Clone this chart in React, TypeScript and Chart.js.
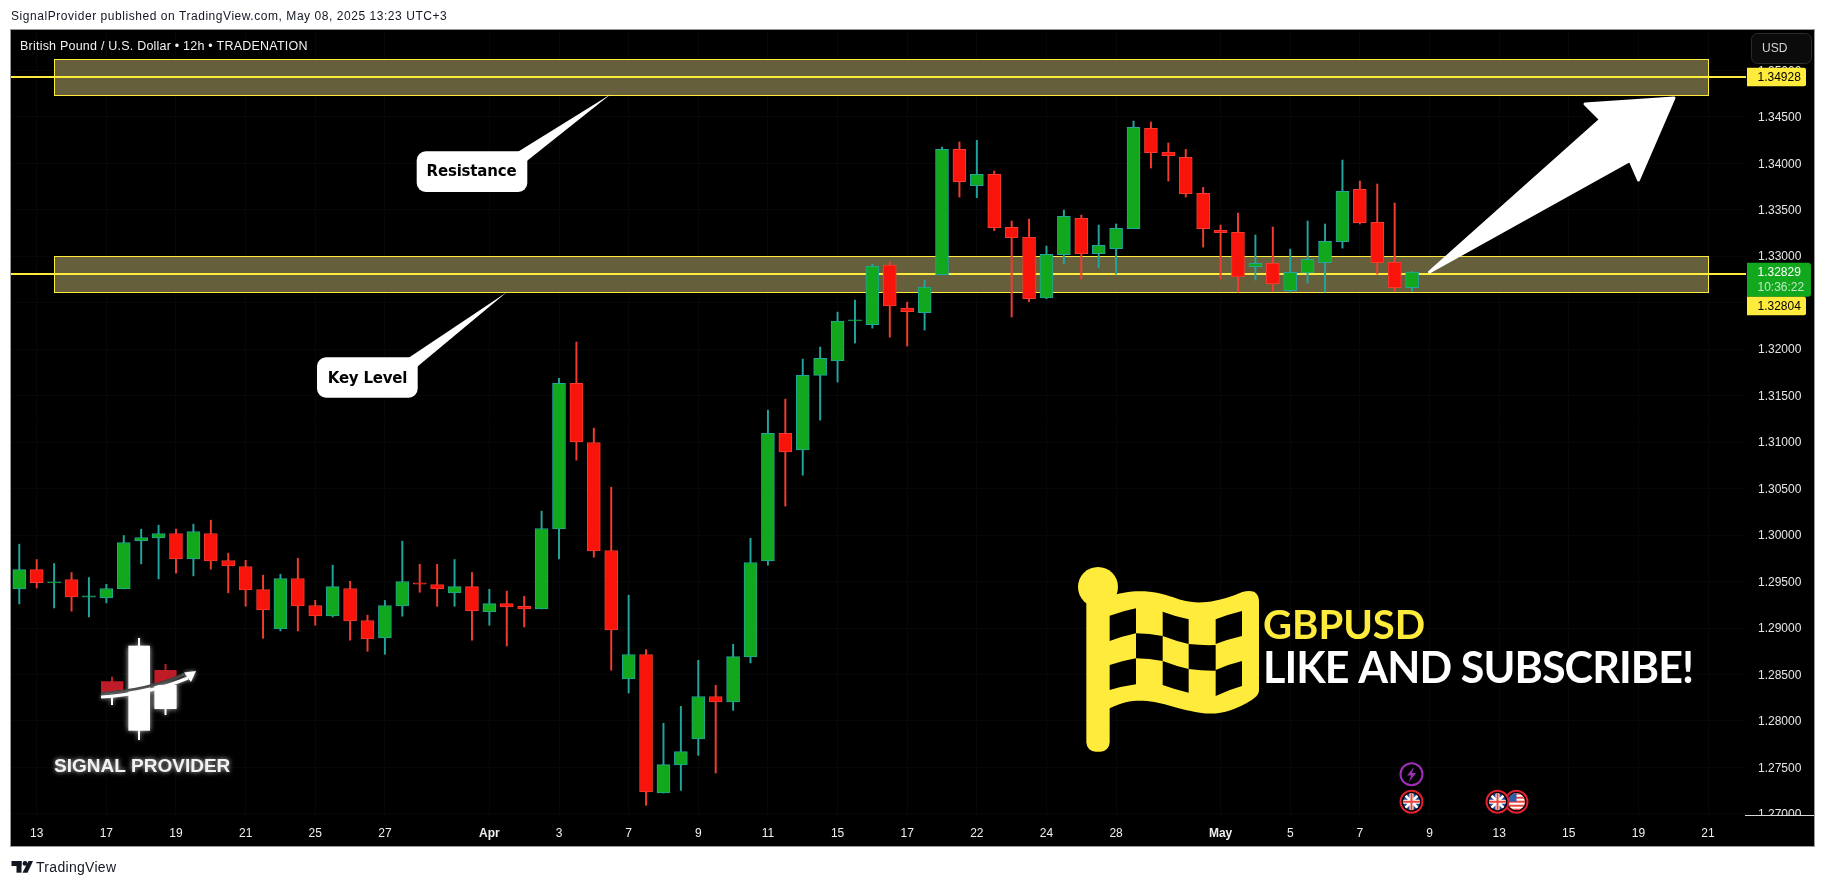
import React, { useEffect, useRef } from "react";
import { Chart, registerables } from "chart.js";

Chart.register(...registerables);

const opens = [1.29421,1.29629,1.29486,1.29522,1.29333,1.29324,1.29421,1.29937,1.29969,1.30017,1.29743,1.30017,1.29726,1.29662,1.29414,1.28990,1.29533,1.29242,1.29130,1.29425,1.29081,1.28893,1.29238,1.29485,1.29468,1.29378,1.29446,1.29173,1.29263,1.29234,1.29205,1.30066,1.31631,1.30996,1.29834,1.28452,1.28715,1.27225,1.27527,1.27806,1.28263,1.28205,1.28689,1.29722,1.31093,1.30917,1.31717,1.31874,1.32303,1.32262,1.32904,1.32442,1.32391,1.32800,1.34149,1.33758,1.33880,1.33310,1.33202,1.32552,1.33015,1.33407,1.33026,1.33080,1.33295,1.34375,1.34120,1.34063,1.33676,1.33278,1.33256,1.32886,1.32923,1.32628,1.32821,1.32929,1.33155,1.33719,1.33364,1.32933,1.32660];
const highs = [1.29902,1.29737,1.29694,1.29597,1.29543,1.29471,1.29995,1.30063,1.30106,1.30063,1.30117,1.30160,1.29805,1.29729,1.29568,1.29579,1.29751,1.29299,1.29676,1.29503,1.29138,1.29296,1.29934,1.29686,1.29686,1.29737,1.29597,1.29417,1.29396,1.29342,1.30257,1.31685,1.32076,1.31150,1.30515,1.29353,1.28768,1.27975,1.28158,1.28653,1.28384,1.28825,1.29966,1.31344,1.31462,1.31893,1.32022,1.32398,1.32528,1.32915,1.32937,1.32506,1.32743,1.34174,1.34228,1.34246,1.33916,1.33378,1.33399,1.33109,1.33496,1.33442,1.33335,1.33346,1.34454,1.34443,1.34217,1.34149,1.33740,1.33335,1.33464,1.33227,1.33313,1.33076,1.33378,1.33346,1.34034,1.33808,1.33776,1.33572,1.32836];
const lows = [1.29259,1.29431,1.29216,1.29181,1.29119,1.29270,1.29421,1.29690,1.29528,1.29590,1.29561,1.29633,1.29378,1.29234,1.28890,1.28969,1.28969,1.29030,1.29119,1.28869,1.28750,1.28718,1.29127,1.29385,1.29234,1.29234,1.28869,1.29030,1.28807,1.29012,1.29205,1.29743,1.30806,1.29762,1.28546,1.28301,1.27093,1.27225,1.27254,1.27631,1.27440,1.28115,1.28624,1.29676,1.30311,1.30644,1.31236,1.31645,1.32065,1.32226,1.32129,1.32033,1.32205,1.32797,1.33636,1.33629,1.33273,1.32345,1.32509,1.32542,1.32915,1.32754,1.32875,1.32807,1.33295,1.33948,1.33808,1.33636,1.33098,1.32754,1.32614,1.32743,1.32624,1.32613,1.32711,1.32613,1.33087,1.33346,1.32807,1.32624,1.32624];
const closes = [1.29629,1.29489,1.29497,1.29335,1.29345,1.29425,1.29920,1.29974,1.30017,1.29743,1.30038,1.29722,1.29668,1.29410,1.29195,1.29533,1.29238,1.29130,1.29446,1.29076,1.28883,1.29242,1.29500,1.29473,1.29421,1.29446,1.29184,1.29263,1.29227,1.29205,1.30071,1.31631,1.31003,1.29830,1.28979,1.28715,1.27236,1.27531,1.27671,1.28263,1.28205,1.28693,1.29705,1.31093,1.30895,1.31717,1.31900,1.32302,1.32315,1.32894,1.32466,1.32402,1.32668,1.34149,1.33801,1.33880,1.33306,1.33198,1.32542,1.33019,1.33428,1.33026,1.33116,1.33299,1.34386,1.34113,1.34081,1.33672,1.33295,1.33252,1.32778,1.32923,1.32703,1.32826,1.32966,1.33159,1.33697,1.33359,1.32929,1.32660,1.32829];

const timeTickIndexes = [1,5,9,13,17,21,27,31,35,39,43,47,51,55,59,63,69,73,77,81,85,89,93,97];
const timeTickLabels = ["13","17","19","21","25","27","Apr","3","7","9","11","15","17","22","24","28","May","5","7","9","13","15","19","21"];
const priceTicks = [1.27,1.275,1.28,1.285,1.29,1.295,1.3,1.305,1.31,1.315,1.32,1.325,1.33,1.335,1.34,1.345,1.35];

const zoneTops = [1.35118, 1.32998];
const zoneBottoms = [1.34726, 1.32606];
const levels = [1.34928, 1.32804];
const zoneFromIndex = 2;
const zoneToIndex = 97;
const lastPrice = "1.32829";
const countdown = "10:36:22";

const GREEN = "#12a81d";
const RED = "#f9140b";
const TEAL = "#22a59c";
const REDLINE = "#f33b2f";
const YELLOW = "#ffeb3b";

const isUp = (i: number) => closes[i] >= opens[i];

function callout(ctx: any, x0: number, y0: number, x1: number, y1: number, tipX: number, tipY: number, baseX: number, baseY: number, text: string, cx: number, cy: number) {
  ctx.save();
  ctx.fillStyle = "#fff";
  ctx.beginPath();
  ctx.roundRect(x0, y0, x1 - x0, y1 - y0, 9);
  ctx.fill();
  ctx.beginPath();
  ctx.moveTo(baseX, y0 + 0.5);
  ctx.lineTo(tipX, tipY);
  ctx.lineTo(x1 - 0.5, baseY);
  ctx.lineTo(x1 - 12, y0 + 12);
  ctx.closePath();
  ctx.fill();
  ctx.fillStyle = "#000";
  ctx.font = "bold 15px 'DejaVu Sans'";
  ctx.letterSpacing = "-0.2px";
  ctx.textAlign = "center";
  ctx.textBaseline = "middle";
  ctx.fillText(text, cx, cy);
  ctx.restore();
}

function drawFlag(ctx: any) {
  ctx.save();
  ctx.translate(1060, 560);
  ctx.scale(1 / 3, 1 / 3);
  ctx.fillStyle = YELLOW;
  ctx.beginPath();
  ctx.arc(114, 81, 60, 0, Math.PI * 2);
  ctx.fill();
  ctx.beginPath();
  ctx.roundRect(79, 100, 70, 475, 28);
  ctx.fill();
  ctx.beginPath();
  ctx.moveTo(140, 112);
  ctx.bezierCurveTo(220, 82, 290, 93, 340, 112);
  ctx.bezierCurveTo(395, 135, 450, 132, 525, 105);
  ctx.bezierCurveTo(560, 87, 597, 85, 597, 125);
  ctx.lineTo(597, 390);
  ctx.bezierCurveTo(597, 402, 590, 410, 575, 420);
  ctx.bezierCurveTo(520, 455, 470, 467, 420, 458);
  ctx.bezierCurveTo(340, 445, 300, 420, 230, 422);
  ctx.bezierCurveTo(200, 423, 175, 432, 140, 449);
  ctx.closePath();
  ctx.fill();
  ctx.fillStyle = "#000";
  const cells = [
    [149,167,228,145,228,220,149,243,-3],
    [308,155,386,178,386,252,308,228,3],
    [467,178,546,153,546,228,467,252,-3],
    [228,220,308,228,308,303,228,295,-4],
    [386,252,467,255,467,332,386,327,3],
    [149,315,228,295,228,373,149,390,-3],
    [308,303,386,327,386,398,308,375,3],
    [467,330,546,303,546,378,467,408,-4],
  ];
  cells.forEach((c) => {
    ctx.beginPath();
    ctx.moveTo(c[0], c[1]);
    ctx.quadraticCurveTo((c[0] + c[2]) / 2, (c[1] + c[3]) / 2 + c[8], c[2], c[3]);
    ctx.lineTo(c[4], c[5]);
    ctx.quadraticCurveTo((c[4] + c[6]) / 2, (c[5] + c[7]) / 2 + c[8], c[6], c[7]);
    ctx.closePath();
    ctx.fill();
  });
  ctx.restore();
}

function drawLogo(ctx: any) {
  ctx.save();
  ctx.shadowColor = "rgba(255,255,255,0.75)";
  ctx.shadowBlur = 5;
  ctx.fillStyle = "#fff";
  ctx.fillRect(128.4, 645.7, 21.6, 85);
  ctx.fillRect(138, 638, 2, 102);
  ctx.fillRect(154.4, 685, 22.2, 24);
  ctx.fillRect(164.5, 709, 2, 6);
  ctx.fillRect(111, 696, 2, 9);
  ctx.shadowBlur = 0;
  ctx.fillStyle = "#c01c28";
  ctx.fillRect(164.5, 664, 2, 8);
  ctx.fillRect(111, 676.7, 2, 6);
  ctx.beginPath();
  ctx.moveTo(154.4, 670);
  ctx.lineTo(176.6, 670);
  ctx.lineTo(176.6, 677);
  ctx.lineTo(154.4, 684);
  ctx.closePath();
  ctx.fill();
  ctx.beginPath();
  ctx.moveTo(101, 681.3);
  ctx.lineTo(123.4, 681.3);
  ctx.lineTo(123.4, 690);
  ctx.lineTo(101, 693);
  ctx.closePath();
  ctx.fill();
  ctx.strokeStyle = "#3a3a3a";
  ctx.lineWidth = 3;
  ctx.beginPath();
  ctx.moveTo(101, 693.5);
  ctx.quadraticCurveTo(150, 690, 184, 674);
  ctx.stroke();
  ctx.shadowColor = "rgba(255,255,255,0.7)";
  ctx.shadowBlur = 4;
  ctx.strokeStyle = "#fff";
  ctx.lineWidth = 3;
  ctx.beginPath();
  ctx.moveTo(101, 697);
  ctx.quadraticCurveTo(150, 694, 188, 678);
  ctx.stroke();
  ctx.fillStyle = "#fff";
  ctx.beginPath();
  ctx.moveTo(196, 671);
  ctx.lineTo(184, 672.5);
  ctx.lineTo(191, 682);
  ctx.closePath();
  ctx.fill();
  ctx.shadowColor = "rgba(255,255,255,0.8)";
  ctx.shadowBlur = 5;
  ctx.fillStyle = "#f2f2f2";
  ctx.font = "bold 19px 'Liberation Sans'";
  ctx.textBaseline = "alphabetic";
  ctx.textAlign = "left";
  ctx.fillText("SIGNAL PROVIDER", 54, 771.5);
  ctx.restore();
}

function ukFlag(ctx: any, cx: number, cy: number) {
  ctx.save();
  ctx.strokeStyle = "#e0202f";
  ctx.lineWidth = 2;
  ctx.fillStyle = "#000";
  ctx.beginPath();
  ctx.arc(cx, cy, 11, 0, Math.PI * 2);
  ctx.fill();
  ctx.stroke();
  ctx.beginPath();
  ctx.arc(cx, cy, 8.5, 0, Math.PI * 2);
  ctx.clip();
  ctx.fillStyle = "#24468f";
  ctx.fillRect(cx - 9, cy - 9, 18, 18);
  ctx.strokeStyle = "#fff";
  ctx.lineWidth = 2.6;
  ctx.beginPath();
  ctx.moveTo(cx - 9, cy - 9); ctx.lineTo(cx + 9, cy + 9);
  ctx.moveTo(cx + 9, cy - 9); ctx.lineTo(cx - 9, cy + 9);
  ctx.stroke();
  ctx.lineWidth = 4;
  ctx.beginPath();
  ctx.moveTo(cx - 9, cy); ctx.lineTo(cx + 9, cy);
  ctx.moveTo(cx, cy - 9); ctx.lineTo(cx, cy + 9);
  ctx.stroke();
  ctx.strokeStyle = "#e8453c";
  ctx.lineWidth = 2;
  ctx.stroke();
  ctx.restore();
}

function usFlag(ctx: any, cx: number, cy: number) {
  ctx.save();
  ctx.strokeStyle = "#e0202f";
  ctx.lineWidth = 2;
  ctx.fillStyle = "#000";
  ctx.beginPath();
  ctx.arc(cx, cy, 11, 0, Math.PI * 2);
  ctx.fill();
  ctx.stroke();
  ctx.beginPath();
  ctx.arc(cx, cy, 8.5, 0, Math.PI * 2);
  ctx.clip();
  ctx.fillStyle = "#fff";
  ctx.fillRect(cx - 9, cy - 9, 18, 18);
  ctx.fillStyle = "#e8453c";
  for (let k = -9; k < 9; k += 4) ctx.fillRect(cx - 9, cy + k, 18, 2);
  ctx.fillStyle = "#2f5aa8";
  ctx.fillRect(cx - 9, cy - 9, 9, 9);
  ctx.restore();
}

const overlayPlugin = {
  id: "overlay",
  beforeDraw(chart: any) {
    const { ctx } = chart;
    ctx.save();
    ctx.fillStyle = "#fff";
    ctx.fillRect(0, 0, chart.width, chart.height);
    ctx.fillStyle = "#000";
    ctx.fillRect(11, 30, 1803, 816);
    ctx.strokeStyle = "#9a9a9a";
    ctx.lineWidth = 1;
    ctx.strokeRect(10.5, 29.5, 1804, 817);
    ctx.restore();
  },
  beforeDatasetsDraw(chart: any) {
    const { ctx, chartArea: a, scales } = chart;
    const x = scales.x;
    const y = scales.y;
    ctx.save();
    zoneTops.forEach((t, i) => {
      const x0 = x.getPixelForValue(zoneFromIndex);
      const x1 = x.getPixelForValue(zoneToIndex);
      const y0 = y.getPixelForValue(t);
      const y1 = y.getPixelForValue(zoneBottoms[i]);
      ctx.fillStyle = "#655f3c";
      ctx.fillRect(x0, y0, x1 - x0, y1 - y0);
      ctx.strokeStyle = YELLOW;
      ctx.lineWidth = 1;
      ctx.strokeRect(Math.round(x0) + 0.5, Math.round(y0) + 0.5, Math.round(x1 - x0), Math.round(y1 - y0));
      const ly = Math.round(y.getPixelForValue(levels[i]));
      ctx.fillStyle = YELLOW;
      ctx.fillRect(a.left, ly - 1, a.right - a.left, 2);
    });
    ctx.restore();
  },
  afterDraw(chart: any) {
    const { ctx, scales } = chart;
    const y = scales.y;
    ctx.save();
    ctx.fillStyle = "#000";
    ctx.fillRect(1746, 816, 68, 30);
    ctx.fillStyle = "#d8d8d8";
    ctx.fillRect(1745, 815, 69, 1);

    // legend title
    ctx.fillStyle = "#f2f2f2";
    ctx.font = "12.5px 'Liberation Sans'";
    ctx.letterSpacing = "0.22px";
    ctx.textBaseline = "middle";
    ctx.textAlign = "left";
    ctx.fillText("British Pound / U.S. Dollar \u2022 12h \u2022 TRADENATION", 20, 46.5);
    ctx.letterSpacing = "0px";

    // USD button
    ctx.fillStyle = "#0b0b0b";
    ctx.strokeStyle = "#2b2b2b";
    ctx.beginPath();
    ctx.roundRect(1751.5, 33.5, 60, 30, 6);
    ctx.fill();
    ctx.stroke();
    ctx.fillStyle = "#d5d5d5";
    ctx.font = "12px 'Liberation Sans'";
    ctx.fillText("USD", 1762, 48.5);

    // price badges
    const badge = (h: number, text: string, top: number) => {
      ctx.fillStyle = YELLOW;
      ctx.beginPath();
      ctx.roundRect(1747, top, 59, h, [0, 2, 2, 0]);
      ctx.fill();
      ctx.fillStyle = "#000";
      ctx.font = "12px 'Liberation Sans'";
      ctx.fillText(text, 1757.5, top + h / 2 + 0.5);
    };
    badge(18.5, levels[0].toFixed(5), y.getPixelForValue(levels[0]) - 9.2);
    ctx.fillStyle = GREEN;
    ctx.beginPath();
    ctx.roundRect(1747, 262.7, 64, 34, [0, 3, 3, 0]);
    ctx.fill();
    ctx.fillStyle = "#fff";
    ctx.font = "12px 'Liberation Sans'";
    ctx.fillText(lastPrice, 1757.5, 272.5);
    ctx.fillStyle = "#bfe8c2";
    ctx.fillText(countdown, 1757.5, 287.5);
    badge(18.5, levels[1].toFixed(5), 296.7);

    // callouts
    callout(ctx, 416.7, 151.3, 527.3, 192, 610.7, 94.3, 518, 161, "Resistance", 471.5, 172.5);
    callout(ctx, 317, 357.3, 417.7, 397.7, 506.7, 292.3, 408.7, 366.7, "Key Level", 367.5, 379);

    // big arrow
    ctx.fillStyle = "#fff";
    ctx.strokeStyle = "#fff";
    ctx.lineWidth = 3;
    ctx.lineJoin = "round";
    ctx.beginPath();
    ctx.moveTo(1429.5, 272);
    ctx.lineTo(1600.5, 119.5);
    ctx.lineTo(1585, 104);
    ctx.lineTo(1674, 98);
    ctx.lineTo(1638.5, 180);
    ctx.lineTo(1630, 160.5);
    ctx.closePath();
    ctx.fill();
    ctx.stroke();

    drawFlag(ctx);
    ctx.fillStyle = YELLOW;
    ctx.font = "bold 40px Lato";
    ctx.textBaseline = "alphabetic";
    ctx.fillText("GBPUSD", 1263, 639);
    ctx.fillStyle = "#fff";
    ctx.font = "bold 43px Lato";
    ctx.letterSpacing = "-0.9px";
    ctx.fillText("LIKE AND SUBSCRIBE!", 1263, 682.5);
    ctx.letterSpacing = "0px";

    drawLogo(ctx);

    // events
    ctx.strokeStyle = "#9c2fb5";
    ctx.lineWidth = 2;
    ctx.fillStyle = "#000";
    ctx.beginPath();
    ctx.arc(1411.5, 774.3, 11, 0, Math.PI * 2);
    ctx.fill();
    ctx.stroke();
    ctx.fillStyle = "#9c2fb5";
    ctx.beginPath();
    ctx.moveTo(1414, 767);
    ctx.lineTo(1407, 775.5);
    ctx.lineTo(1411, 775.5);
    ctx.lineTo(1409, 782);
    ctx.lineTo(1416, 773);
    ctx.lineTo(1412, 773);
    ctx.closePath();
    ctx.fill();
    ukFlag(ctx, 1411.5, 801.7);
    usFlag(ctx, 1516.5, 801.7);
    ukFlag(ctx, 1497.5, 801.7);

    // TradingView logo
    ctx.fillStyle = "#131722";
    ctx.fillRect(11.5, 861, 10, 5);
    ctx.fillRect(16.5, 861, 5, 11.7);
    ctx.beginPath();
    ctx.arc(25, 863.4, 2.4, 0, Math.PI * 2);
    ctx.fill();
    ctx.beginPath();
    ctx.moveTo(28.5, 861);
    ctx.lineTo(33, 861);
    ctx.lineTo(27.5, 872.7);
    ctx.lineTo(22.5, 872.7);
    ctx.closePath();
    ctx.fill();
    ctx.restore();
  },
};

export default function App() {
  const ref = useRef<HTMLCanvasElement>(null);
  useEffect(() => {
    document.body.style.margin = "0";
    document.body.style.background = "#fff";
    const idx = opens.map((_, i) => i);
    const chart = new Chart(ref.current as HTMLCanvasElement, {
      type: "bar",
      data: {
        datasets: [
          {
            label: "GBPUSD body",
            order: 1,
            grouped: false,
            barThickness: 13,
            borderWidth: 1,
            borderSkipped: false,
            data: idx.map((i) => ({ x: i, y: [opens[i], closes[i]] })),
            backgroundColor: idx.map((i) => (isUp(i) ? GREEN : RED)),
            borderColor: idx.map((i) => (isUp(i) ? TEAL : REDLINE)),
          },
          {
            label: "GBPUSD wick",
            order: 2,
            grouped: false,
            barThickness: 1.3,
            borderWidth: 0,
            data: idx.map((i) => ({ x: i, y: [lows[i], highs[i]] })),
            backgroundColor: idx.map((i) => (isUp(i) ? TEAL : REDLINE)),
          },
        ] as any,
      },
      options: {
        responsive: false,
        animation: false,
        devicePixelRatio: 1,
        layout: { padding: { left: 11, top: 31, right: 12, bottom: 40 } },
        plugins: { legend: { display: false }, title: { display: false }, tooltip: { enabled: false } },
        scales: {
          x: {
            type: "linear",
            offset: false,
            min: -0.477,
            max: 99.18,
            afterBuildTicks: (s: any) => {
              s.ticks = timeTickIndexes.map((v) => ({ value: v }));
            },
            afterFit: (s: any) => {
              s.height = 30;
            },
            border: { display: false },
            grid: { color: "#070707", tickLength: 0, offset: false },
            ticks: {
              autoSkip: false,
              maxRotation: 0,
              padding: 10,
              color: "#f0f0f0",
              callback: (v: any) => timeTickLabels[timeTickIndexes.indexOf(v)] ?? "",
              font: (c: any) => {
                const l = c.tick ? timeTickLabels[timeTickIndexes.indexOf(c.tick.value)] : "";
                return { family: "'Liberation Sans'", size: 12, weight: l === "Apr" || l === "May" ? "bold" : "normal" };
              },
            },
          },
          y: {
            type: "linear",
            position: "right",
            min: 1.26978,
            max: 1.35422,
            afterBuildTicks: (s: any) => {
              s.ticks = priceTicks.map((v) => ({ value: v }));
            },
            afterFit: (s: any) => {
              s.width = 68;
            },
            border: { display: false },
            grid: { color: "#070707", tickLength: 0 },
            ticks: {
              autoSkip: false,
              padding: 12,
              labelOffset: 1,
              color: "#e6e6e6",
              font: { family: "'Liberation Sans'", size: 12 },
              callback: (v: any) => Number(v).toFixed(5),
            },
          },
        },
      } as any,
      plugins: [overlayPlugin],
    });
    return () => chart.destroy();
  }, []);
  return (
    <div style={{ position: "absolute", left: 0, top: 0, width: 1826, height: 886, overflow: "hidden", background: "#fff" }}>
      <canvas ref={ref} width={1826} height={886} style={{ display: "block" }} />
      <div style={{ position: "absolute", left: 11, top: 9, font: "12px 'Liberation Sans'", letterSpacing: "0.55px", color: "#131722", whiteSpace: "nowrap" }}>
        SignalProvider published on TradingView.com, May 08, 2025 13:23 UTC+3
      </div>
      <div style={{ position: "absolute", left: 36, top: 859, font: "14px 'Liberation Sans'", letterSpacing: "0.3px", color: "#131722", whiteSpace: "nowrap" }}>
        TradingView
      </div>
    </div>
  );
}
